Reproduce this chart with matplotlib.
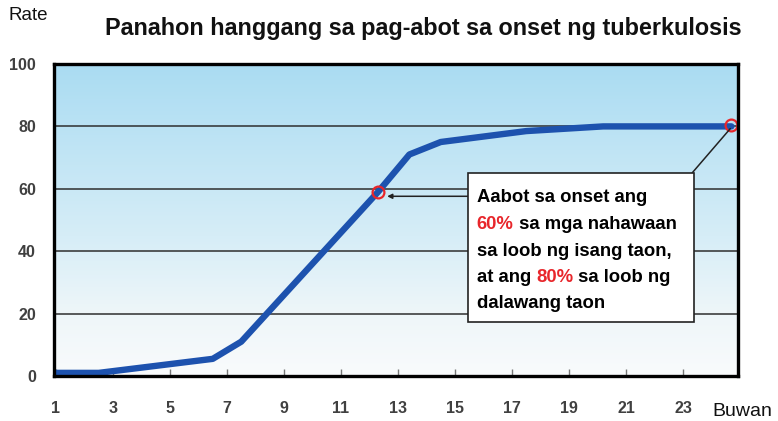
import numpy as np
import matplotlib
matplotlib.use("Agg")
import matplotlib.pyplot as plt
from matplotlib.colors import LinearSegmentedColormap
from matplotlib.patches import Rectangle

# ---- data ----
months = [1, 2.5, 6.5, 7.5, 12.3, 13.4, 14.5, 17.5, 20.2, 24.7]
rates = [1, 1, 5.5, 11, 59, 71, 75, 78.5, 80, 80]
highlight_x = [12.3, 24.7]
highlight_y = [59, 80.5]
x_ticks = [1, 3, 5, 7, 9, 11, 13, 15, 17, 19, 21, 23]
y_ticks = [0, 20, 40, 60, 80, 100]

title = "Panahon hanggang sa pag-abot sa onset ng tuberkulosis"
ylabel = "Rate"
xlabel = "Buwan"

W, H = 778, 421
fig = plt.figure(figsize=(W / 100, H / 100), dpi=100)
ax = fig.add_axes([54 / W, 1 - 376 / H, (738 - 54) / W, (376 - 64) / H])

# gradient background
cmap = LinearSegmentedColormap.from_list(
    "bg", [(0.0, "#f9fbfc"), (0.2, "#eef6f9"), (0.45, "#d6edf7"), (1.0, "#aadcf2")])
grad = np.linspace(0, 1, 256).reshape(-1, 1)
ax.imshow(grad, extent=[0, 1, 0, 1], transform=ax.transAxes, aspect="auto",
          cmap=cmap, origin="lower", zorder=0)

ax.set_xlim(0.93, 24.93)
ax.set_ylim(0, 100)

for yv in y_ticks[1:-1]:
    ax.axhline(yv, color="#2e2e2e", lw=1.1, zorder=1)

ax.plot(months, rates, color="#1d52ae", lw=4.6, solid_joinstyle="round",
        solid_capstyle="round", zorder=3)
ax.plot(highlight_x, highlight_y, linestyle="none", marker="o", ms=8.5,
        mfc="none", mec="#e8262b", mew=1.6, zorder=5)

for s in ax.spines.values():
    s.set_linewidth(2.4)
    s.set_color("black")
    s.set_zorder(6)

tickfont = dict(family=["Liberation Sans", "DejaVu Sans"], weight="bold", size=11.5)
ax.set_xticks(x_ticks)
ax.set_xticklabels([str(v) for v in x_ticks], color="#404040", **tickfont)
ax.set_yticks(y_ticks)
ax.set_yticklabels([str(v) for v in y_ticks], color="#404040", **tickfont)
ax.tick_params(axis="x", direction="in", length=5, width=1, color="#777777", pad=18)
ax.tick_params(axis="y", length=0, pad=13)

# annotation box
bx0, by0, bx1, by1 = 0.605, 0.173, 0.936, 0.651
ax.add_patch(Rectangle((bx0, by0), bx1 - bx0, by1 - by0, transform=ax.transAxes,
                       facecolor="white", edgecolor="#222222", lw=1.2, zorder=7))

# leader lines
ax.annotate("", xy=(12.62, 57.6), xycoords="data", xytext=(15.45, 57.6),
            textcoords="data",
            arrowprops=dict(arrowstyle="-|>", color="#222222", lw=1.1,
                            mutation_scale=7, shrinkA=0, shrinkB=0), zorder=6)
ax.annotate("", xy=(24.66, 79.3), xycoords="data", xytext=(0.933, by1),
            textcoords="axes fraction",
            arrowprops=dict(arrowstyle="-", color="#222222", lw=1.1,
                            shrinkA=0, shrinkB=0), zorder=6)

bfont = dict(family=["Liberation Sans", "DejaVu Sans"], weight="bold", size=13.3)
tx = 0.618
line_y = [0.571, 0.487, 0.400, 0.315, 0.231]
red = "#e8262b"

def seg_line(y, parts):
    prev = None
    for txt, col in parts:
        if prev is None:
            prev = ax.text(tx, y, txt, transform=ax.transAxes, color=col,
                           va="center", ha="left", zorder=8, **bfont)
        else:
            prev = ax.annotate(txt, xy=(1, 0), xycoords=prev, va="bottom",
                               ha="left", color=col, zorder=8, **bfont)

seg_line(line_y[0], [("Aabot sa onset ang", "black")])
seg_line(line_y[1], [("60%", red), (" sa mga nahawaan", "black")])
seg_line(line_y[2], [("sa loob ng isang taon,", "black")])
seg_line(line_y[3], [("at ang ", "black"), ("80%", red), (" sa loob ng", "black")])
seg_line(line_y[4], [("dalawang taon", "black")])

# texts
fig.text(0.544, 1 - 28 / H, title, ha="center", va="center",
         family=["Liberation Sans", "DejaVu Sans"],
         weight="bold", size=16.8, color="#111111")
fig.text(8 / W, 1 - 15 / H, ylabel, ha="left", va="center",
         family=["Liberation Sans", "DejaVu Sans"],
         size=13.5, color="#111111")
fig.text(712 / W, 1 - 411 / H, xlabel, ha="left", va="center",
         family=["Liberation Sans", "DejaVu Sans"],
         size=14, color="#111111")

fig.savefig("out.png", dpi=100)
